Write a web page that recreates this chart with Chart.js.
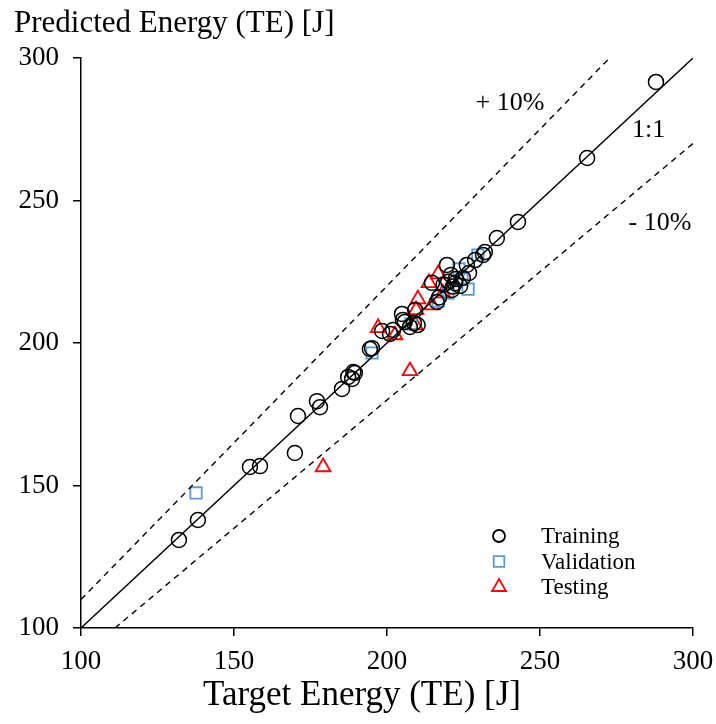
<!DOCTYPE html>
<html><head><meta charset="utf-8">
<script src="https://cdn.jsdelivr.net/npm/chart.js@4/dist/chart.umd.min.js"></script>
<style>html,body{margin:0;padding:0;background:#fff}#wrap{width:716px;height:724px}</style>
</head><body><div id="wrap"><canvas id="c" width="716" height="724"></canvas></div>
<script>
const xTicks = [100, 150, 200, 250, 300];
const yTicks = [100, 150, 200, 250, 300];
const trainingX = [132.0,138.2,155.2,158.5,169.9,170.9,177.1,178.1,185.3,187.3,188.6,189.0,189.5,194.4,195.1,198.4,201.0,202.0,204.9,205.2,205.8,207.5,208.8,209.2,210.0,214.7,216.3,217.0,219.6,220.9,221.2,222.2,222.5,223.9,224.8,226.1,226.8,228.8,231.4,232.0,235.9,242.8,265.4,287.9,218.5,220.0,221.5];
const trainingY = [130.9,137.9,156.5,156.8,161.4,174.4,179.6,177.5,183.9,188.1,187.4,189.8,189.5,197.9,198.2,204.2,203.2,204.6,210.2,208.1,207.4,205.6,207.0,211.6,206.3,221.1,214.4,216.0,227.4,223.9,218.6,221.0,222.5,220.0,222.8,227.4,224.6,229.1,230.9,231.9,236.8,242.5,264.9,291.6,220.5,221.5,219.8];
const validationX = [137.6,195.1,207.8,216.7,219.9,226.5,224.5,223.5,229.7];
const validationY = [147.4,196.5,206.7,214.7,217.5,218.9,222.5,226.0,230.9];
const testingX = [179.1,197.1,202.6,207.5,209.2,209.5,210.1,213.7,214.7,216.7,218.3];
const testingY = [156.5,205.3,202.8,190.2,206.3,211.6,215.4,221.1,213.3,224.2,217.5];
const lineRange = [100, 300];
const ratios = [1.0, 1.1, 0.9];

const pts = (xs, ys) => xs.map((x, i) => ({x, y: ys[i]}));
const refLine = r => {
  const a = Math.max(lineRange[0], lineRange[0] / r), b = Math.min(lineRange[1], lineRange[1] / r);
  return [{x: a, y: a * r}, {x: b, y: b * r}];
};
const SERIF = '"Liberation Serif", "Times New Roman", serif';

const overlay = {
  id: 'overlay',
  afterDraw(chart) {
    const {ctx, scales: {x, y}} = chart;
    ctx.save();
    ctx.fillStyle = '#000';
    ctx.textBaseline = 'alphabetic';
    ctx.textAlign = 'left';
    ctx.font = '31px ' + SERIF;
    ctx.fillText('Predicted Energy (TE) [J]', 14, 32);
    ctx.textAlign = 'center';
    ctx.font = '35px ' + SERIF;
    ctx.fillText('Target Energy (TE) [J]', 362, 705);
    ctx.textBaseline = 'middle';
    ctx.font = '26px ' + SERIF;
    ctx.fillText('+ 10%', x.getPixelForValue(240.2), y.getPixelForValue(284.2));
    ctx.fillText('1:1', x.getPixelForValue(285.5), y.getPixelForValue(274.7));
    ctx.fillText('- 10%', x.getPixelForValue(289.2), y.getPixelForValue(242.2));
    // legend
    const items = [
      {label: 'Training', style: 'circle', color: '#000', r: 6},
      {label: 'Validation', style: 'rect', color: '#5b9bd5', r: 7.5},
      {label: 'Testing', style: 'triangle', color: '#ff0000', r: 8}
    ];
    ctx.textAlign = 'left';
    items.forEach((it, i) => {
      const cy = 536 + i * 25.5;
      ctx.strokeStyle = it.color;
      ctx.fillStyle = 'rgba(0,0,0,0)';
      ctx.lineWidth = 1.8;
      Chart.helpers.drawPoint(ctx, {pointStyle: it.style, radius: it.r, borderWidth: 1.8}, 499, cy);
      ctx.fillStyle = '#000';
      ctx.font = '23px ' + SERIF;
      ctx.fillText(it.label, 541, cy + 1);
    });
    ctx.restore();
  }
};

new Chart(document.getElementById('c'), {
  type: 'scatter',
  data: {
    datasets: [
      {label: '1:1', type: 'line', data: refLine(ratios[0]), borderColor: '#000', borderWidth: 1.4, pointRadius: 0, fill: false},
      {label: '+ 10%', type: 'line', data: refLine(ratios[1]), borderColor: '#000', borderWidth: 1.4, borderDash: [6, 5], pointRadius: 0, fill: false},
      {label: '- 10%', type: 'line', data: refLine(ratios[2]), borderColor: '#000', borderWidth: 1.4, borderDash: [6, 5], pointRadius: 0, fill: false},
      {label: 'Training', data: pts(trainingX, trainingY), pointStyle: 'circle', pointRadius: 7.5, borderColor: '#000', backgroundColor: 'rgba(0,0,0,0)', borderWidth: 1.5},
      {label: 'Validation', data: pts(validationX, validationY), pointStyle: 'rect', pointRadius: 8, borderColor: '#5b9bd5', backgroundColor: 'rgba(0,0,0,0)', borderWidth: 1.8},
      {label: 'Testing', data: pts(testingX, testingY), pointStyle: 'triangle', pointRadius: 8.5, borderColor: '#ff0000', backgroundColor: 'rgba(0,0,0,0)', borderWidth: 1.8}
    ]
  },
  options: {
    responsive: false,
    animation: false,
    events: [],
    layout: {padding: {top: 58, right: 23, left: 0, bottom: 0}},
    plugins: {legend: {display: false}, tooltip: {enabled: false}, title: {display: false}},
    scales: {
      x: {
        type: 'linear', min: 100, max: 300,
        afterFit: s => { s.height = 96; s.paddingLeft = 0; s.paddingRight = 0; },
        afterBuildTicks: s => { s.ticks = xTicks.map(v => ({value: v})); },
        grid: {drawOnChartArea: false, drawTicks: true, tickLength: 8, color: '#000', lineWidth: 1.5},
        border: {color: '#000', width: 1.5},
        ticks: {color: '#000', font: {family: SERIF, size: 27}, padding: 10, maxRotation: 0}
      },
      y: {
        type: 'linear', min: 100, max: 300,
        afterFit: s => { s.width = 81; s.paddingTop = 0; s.paddingBottom = 0; },
        afterBuildTicks: s => { s.ticks = yTicks.map(v => ({value: v})); },
        grid: {drawOnChartArea: false, drawTicks: true, tickLength: 8, color: '#000', lineWidth: 1.5},
        border: {color: '#000', width: 1.5},
        ticks: {color: '#000', font: {family: SERIF, size: 27}, padding: 14}
      }
    }
  },
  plugins: [overlay]
});
</script></body></html>
